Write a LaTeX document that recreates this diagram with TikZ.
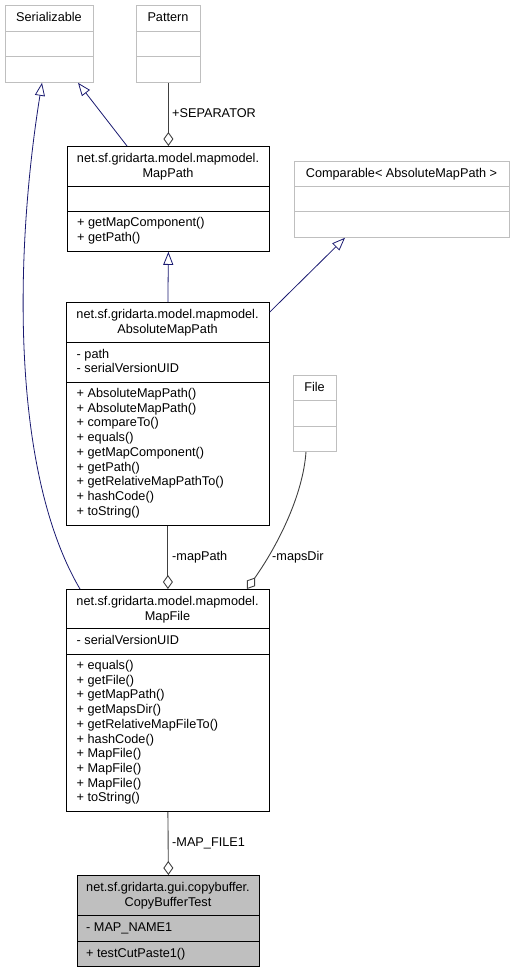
\documentclass[tikz,border=0pt]{standalone}
\usepackage{fontspec}
\setmainfont{Liberation Sans}
\usetikzlibrary{arrows.meta}
\definecolor{inhblue}{HTML}{191970}
\definecolor{agggray}{HTML}{404040}
\definecolor{extgray}{HTML}{BFBFBF}
\begin{document}
\begin{tikzpicture}[x=1pt,y=-1pt,font=\fontsize{12.7}{14.7}\selectfont,inner sep=0pt,
  cls/.style={draw=black,line width=0.8pt,anchor=north west},
  ext/.style={draw=extgray,line width=0.8pt,anchor=north west},
  inh/.style={draw=inhblue,line width=0.8pt,-{Triangle[open,length=13pt,width=10pt]}},
  agg/.style={draw=agggray,line width=0.9pt,-{Diamond[open,length=14pt,width=10pt]}},
  ttl/.style={anchor=base,align=center},
  mem/.style={anchor=base west,align=left}]
\useasboundingbox (0,0) rectangle (514,972);
% interfaces and library classes
\node[ext,minimum width=88pt,minimum height=77pt] (serial) at (5,5) {};
\draw[extgray,line width=0.8pt] (5,31) -- (93,31) (5,56) -- (93,56);
\node[ttl] at (49,21) {Serializable};
\node[ext,minimum width=64pt,minimum height=77pt] (pattern) at (136,5) {};
\draw[extgray,line width=0.8pt] (136,31) -- (200,31) (136,56) -- (200,56);
\node[ttl] at (168,21) {Pattern};
\node[ext,minimum width=215pt,minimum height=76pt] (comp) at (294,161) {};
\draw[extgray,line width=0.8pt] (294,186) -- (509,186) (294,211) -- (509,211);
\node[ttl] at (401.5,177) {Comparable< AbsoluteMapPath >};
\node[ext,minimum width=43pt,minimum height=76pt] (file) at (293,375) {};
\draw[extgray,line width=0.8pt] (293,400) -- (336,400) (293,426) -- (336,426);
\node[ttl] at (314.5,391) {File};
% MapPath
\node[cls,minimum width=202pt,minimum height=105pt] (mappath) at (67,146) {};
\draw[line width=0.8pt] (67,186) -- (269,186) (67,211) -- (269,211);
\node[ttl] at (168,177) {net.sf.gridarta.model.mapmodel.\\MapPath};
\node[mem] at (77,241.2) {+ getMapComponent()\\+ getPath()};
% AbsoluteMapPath
\node[cls,minimum width=203pt,minimum height=223pt] (absmp) at (66,302) {};
\draw[line width=0.8pt] (66,342) -- (269,342) (66,382) -- (269,382);
\node[ttl] at (167.5,333) {net.sf.gridarta.model.mapmodel.\\AbsoluteMapPath};
\node[mem] at (76.5,372.7) {- path\\- serialVersionUID};
\node[mem] at (76.5,515.1) {+ AbsoluteMapPath()\\+ AbsoluteMapPath()\\+ compareTo()\\+ equals()\\+ getMapComponent()\\+ getPath()\\+ getRelativeMapPathTo()\\+ hashCode()\\+ toString()};
% MapFile
\node[cls,minimum width=203pt,minimum height=222pt] (mapfile) at (66,589) {};
\draw[line width=0.8pt] (66,628) -- (269,628) (66,654) -- (269,654);
\node[ttl] at (167.5,620) {net.sf.gridarta.model.mapmodel.\\MapFile};
\node[mem] at (76.5,644) {- serialVersionUID};
\node[mem] at (76.5,801.8) {+ equals()\\+ getFile()\\+ getMapPath()\\+ getMapsDir()\\+ getRelativeMapFileTo()\\+ hashCode()\\+ MapFile()\\+ MapFile()\\+ MapFile()\\+ toString()};
% CopyBufferTest
\node[cls,fill=extgray,minimum width=182pt,minimum height=91pt] (cbtest) at (77,875) {};
\draw[line width=0.8pt] (77,915) -- (259,915) (77,941) -- (259,941);
\node[ttl] at (168,906) {net.sf.gridarta.gui.copybuffer.\\CopyBufferTest};
\node[mem] at (86,931) {- MAP\_NAME1};
\node[mem] at (86,957) {+ testCutPaste1()};
% relations
\draw[inh] ([xshift=60pt]mappath.north west) -- ([xshift=73pt]serial.south west);
\draw[inh] ([xshift=14pt]mapfile.north west) .. controls (10,470) and (15,250) .. ([xshift=37pt]serial.south west);
\draw[agg] (pattern.south) -- (mappath.north);
\draw[inh] (absmp.north) -- (mappath.south);
\draw[inh] ([yshift=-10pt]absmp.north east) -- ([xshift=51pt]comp.south west);
\draw[agg] (absmp.south) -- (mapfile.north);
\draw[agg] ([xshift=13pt]file.south west) .. controls (303,495) and (278,545) .. ([xshift=181pt]mapfile.north west);
\draw[agg] (mapfile.south) -- (cbtest.north);
\node[anchor=base west] (sep) at (172,117) {+SEPARATOR};
\node[anchor=base west] (mp) at (172,560) {-mapPath};
\node[anchor=base west] (md) at (272,560) {-mapsDir};
\node[anchor=base west] (mf) at (172,846) {-MAP\_FILE1};
\end{tikzpicture}
\end{document}
